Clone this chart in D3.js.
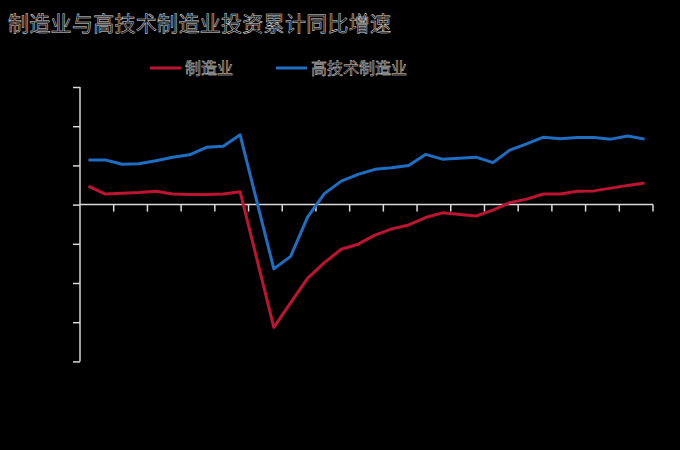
<!DOCTYPE html>
<html>
<head>
<meta charset="utf-8">
<script src="https://cdn.jsdelivr.net/npm/d3@7"></script>
<style>
  body { margin: 0; background: #000; }
  svg { display: block; }
</style>
</head>
<body>
<div id="chart"></div>
<script>
  // months, Jan 2020 and Jan 2021 have no data (reported together with Feb)
  const months = [
    "2019-03", "2019-04", "2019-05", "2019-06", "2019-07", "2019-08", "2019-09", "2019-10", "2019-11", "2019-12",
    "2020-01", "2020-02", "2020-03", "2020-04", "2020-05", "2020-06", "2020-07", "2020-08", "2020-09", "2020-10",
    "2020-11", "2020-12", "2021-01", "2021-02", "2021-03", "2021-04", "2021-05", "2021-06", "2021-07", "2021-08",
    "2021-09", "2021-10", "2021-11", "2021-12"
  ];
  const manufacturing = [
    4.7, 2.7, 2.9, 3.1, 3.4, 2.7, 2.6, 2.6, 2.7, 3.3,
    null, -31.3, -25.0, -18.8, -14.8, -11.4, -10.1, -7.8, -6.2, -5.2,
    -3.3, -2.1, null, -2.9, -1.4, 0.5, 1.4, 2.7, 2.7, 3.4,
    3.5, 4.2, 4.9, 5.5
  ];
  const highTech = [
    11.4, 11.4, 10.3, 10.4, 11.2, 12.1, 12.7, 14.6, 14.9, 17.8,
    null, -16.4, -13.2, -3.2, 2.8, 6.0, 7.7, 9.0, 9.4, 10.0,
    12.8, 11.6, null, 12.1, 10.7, 13.9, 15.5, 17.2, 16.8, 17.1,
    17.1, 16.7, 17.5, 16.7
  ];
  const yTicks = [-40, -30, -20, -10, 0, 10, 20, 30];
  const seriesNames = ["制造业", "高技术制造业"];
  const seriesColors = ["#BE1432", "#1E6EC3"];

  const width = 680, height = 450;
  const plotLeft = 80, plotRight = 653, plotTop = 87, plotBottom = 361.4;

  const svg = d3.select("#chart").append("svg")
    .attr("width", width)
    .attr("height", height)
    .style("background", "#000");

  const x = d3.scaleBand().domain(months).range([plotLeft, plotRight]).padding(0);
  const y = d3.scaleLinear().domain([-40, 30]).range([plotBottom, plotTop]);

  // title, outlined glyphs
  svg.append("text")
    .attr("x", 8)
    .attr("y", 31)
    .attr("font-family", "Noto Sans CJK SC")
    .attr("font-size", 21)
    .attr("letter-spacing", 0.3)
    .attr("fill", "#000")
    .attr("stroke", "#e0e0e0")
    .attr("stroke-width", 0.5)
    .text("制造业与高技术制造业投资累计同比增速");

  // legend
  const legendX = [150, 276];
  seriesNames.forEach((name, i) => {
    const g = svg.append("g").attr("transform", `translate(${legendX[i]},68)`);
    g.append("line")
      .attr("x1", 0).attr("x2", 31)
      .attr("stroke", seriesColors[i])
      .attr("stroke-width", 3);
    g.append("text")
      .attr("x", 35)
      .attr("y", 6)
      .attr("font-family", "Noto Sans CJK SC")
      .attr("font-size", 16)
      .attr("fill", "#000")
      .attr("stroke", "#e0e0e0")
      .attr("stroke-width", 0.45)
      .text(name);
  });

  const axisColor = "#d9d9d9";

  // y axis, no labels
  const yAxis = d3.axisLeft(y).tickValues(yTicks).tickSize(7).tickFormat("");
  const gy = svg.append("g").attr("transform", `translate(${plotLeft},0)`).call(yAxis);
  gy.select(".domain").remove();
  gy.selectAll(".tick line").attr("stroke", axisColor).attr("stroke-width", 1.5);
  svg.append("line")
    .attr("x1", plotLeft).attr("x2", plotLeft)
    .attr("y1", y(30)).attr("y2", y(-40))
    .attr("stroke", axisColor)
    .attr("stroke-width", 1.5);

  // x axis on zero line, tick every 2 months
  const xTickCats = months.filter((d, i) => i % 2 === 1);
  const xAxis = d3.axisBottom(x).tickValues(xTickCats).tickSize(7).tickFormat("");
  const gx = svg.append("g").attr("transform", `translate(0,${y(0)})`).call(xAxis);
  gx.select(".domain").remove();
  gx.selectAll(".tick")
    .attr("transform", d => `translate(${x(d) + x.bandwidth()},0)`);
  gx.selectAll(".tick line").attr("stroke", axisColor).attr("stroke-width", 1.5);
  svg.append("line")
    .attr("x1", plotLeft).attr("x2", plotRight)
    .attr("y1", y(0)).attr("y2", y(0))
    .attr("stroke", axisColor)
    .attr("stroke-width", 1.5);

  // lines, gaps are bridged
  const line = d3.line()
    .x(d => x(d.m) + x.bandwidth() / 2)
    .y(d => y(d.v));

  [manufacturing, highTech].forEach((vals, i) => {
    const pts = months.map((m, j) => ({ m: m, v: vals[j] })).filter(d => d.v !== null);
    svg.append("path")
      .datum(pts)
      .attr("fill", "none")
      .attr("stroke", seriesColors[i])
      .attr("stroke-width", 3)
      .attr("stroke-linejoin", "round")
      .attr("d", line);
  });
</script>
</body>
</html>
